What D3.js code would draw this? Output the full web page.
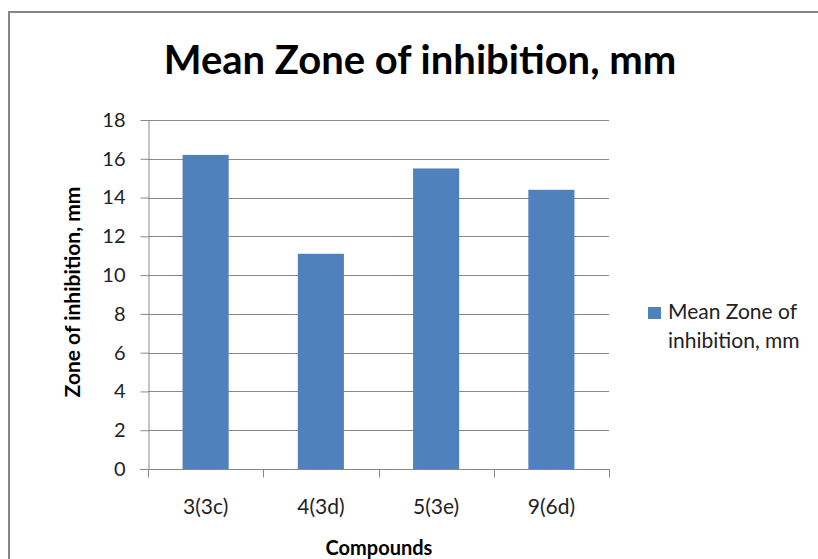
<!DOCTYPE html>
<html>
<head>
<meta charset="utf-8">
<script src="https://cdn.jsdelivr.net/npm/d3@7"></script>
<style>
  body { margin: 0; background: #fff; }
  svg { display: block; font-family: Lato, "Open Sans", sans-serif; }
</style>
</head>
<body>
<svg id="chart" width="818" height="559"></svg>
<script>
// chart data
var categories = ["3(3c)", "4(3d)", "5(3e)", "9(6d)"];
var values = [16.2, 11.1, 15.5, 14.4];
var yTicks = [0, 2, 4, 6, 8, 10, 12, 14, 16, 18];
var seriesName = "Mean Zone of inhibition, mm";
var legendLines = ["Mean Zone of", "inhibition, mm"];

var svg = d3.select("#chart"),
    m = { left: 148, right: 609, top: 120, bottom: 469 };

// outer chart frame (right and bottom run off the picture)
svg.append("rect")
    .attr("x", 9).attr("y", 12)
    .attr("width", 830).attr("height", 580)
    .attr("fill", "none")
    .attr("stroke", "#868686")
    .attr("stroke-width", 2);

var x = d3.scaleBand()
    .domain(categories)
    .range([m.left, m.right])
    .paddingInner(0.6)
    .paddingOuter(0.3);

var y = d3.scaleLinear()
    .domain([0, 18])
    .range([m.bottom, m.top]);

// gridlines
svg.append("g")
    .attr("stroke", "#888")
    .attr("stroke-width", 1)
    .selectAll("line").data(yTicks.filter(d => d > 0)).enter()
    .append("line")
    .attr("x1", m.left).attr("x2", m.right)
    .attr("y1", d => Math.round(y(d)) + 0.5)
    .attr("y2", d => Math.round(y(d)) + 0.5);

// bars
svg.append("g")
    .attr("fill", "#4f81bd")
    .selectAll("rect").data(values).enter()
    .append("rect")
    .attr("x", (d, i) => x(categories[i]))
    .attr("width", x.bandwidth())
    .attr("y", d => y(d))
    .attr("height", d => y(0) - y(d));

// y axis
var yAxis = svg.append("g")
    .attr("transform", "translate(" + (m.left + 0.5) + ",0)")
    .call(d3.axisLeft(y).tickValues(yTicks).tickSize(8).tickPadding(15).tickSizeOuter(0));
yAxis.selectAll("line, path").attr("stroke", "#888");
yAxis.selectAll("text")
    .attr("fill", "#222")
    .style("font-size", "20px")
    .style("font-family", "Lato, sans-serif");

// x axis: ticks on category boundaries
var xAxis = svg.append("g")
    .attr("transform", "translate(0," + (m.bottom + 0.5) + ")");
xAxis.append("line")
    .attr("x1", m.left - 8).attr("x2", m.right + 1)
    .attr("stroke", "#888");
var bounds = d3.range(categories.length + 1).map(i => m.left + i * x.step());
xAxis.selectAll(".tk").data(bounds).enter()
    .append("line")
    .attr("class", "tk")
    .attr("x1", d => Math.round(d) + 0.5).attr("x2", d => Math.round(d) + 0.5)
    .attr("y1", 0).attr("y2", 8)
    .attr("stroke", "#888");
xAxis.selectAll("text").data(categories).enter()
    .append("text")
    .attr("x", d => x(d) + x.bandwidth() / 2)
    .attr("y", 44)
    .attr("text-anchor", "middle")
    .attr("fill", "#222")
    .style("font-size", "21px")
    .text(d => d);

// titles
svg.append("text")
    .attr("x", 420).attr("y", 74)
    .attr("text-anchor", "middle")
    .style("font-size", "40px")
    .style("font-weight", "bold")
    .attr("fill", "#000")
    .text(seriesName);

svg.append("text")
    .attr("transform", "translate(80,292) rotate(-90)")
    .attr("text-anchor", "middle")
    .style("font-size", "21px")
    .style("font-weight", "bold")
    .attr("fill", "#000")
    .text("Zone of inhibition, mm");

svg.append("text")
    .attr("x", 379).attr("y", 555)
    .attr("text-anchor", "middle")
    .style("font-size", "20px")
    .style("font-weight", "bold")
    .attr("fill", "#000")
    .text("Compounds");

// legend
var lg = svg.append("g").attr("transform", "translate(648,307)");
lg.append("rect")
    .attr("width", 13).attr("height", 12)
    .attr("fill", "#4f81bd");
lg.selectAll("text").data(legendLines).enter()
    .append("text")
    .attr("x", 20)
    .attr("y", (d, i) => 12 + i * 29)
    .attr("fill", "#222")
    .style("font-size", "21px")
    .text(d => d);
</script>
</body>
</html>
